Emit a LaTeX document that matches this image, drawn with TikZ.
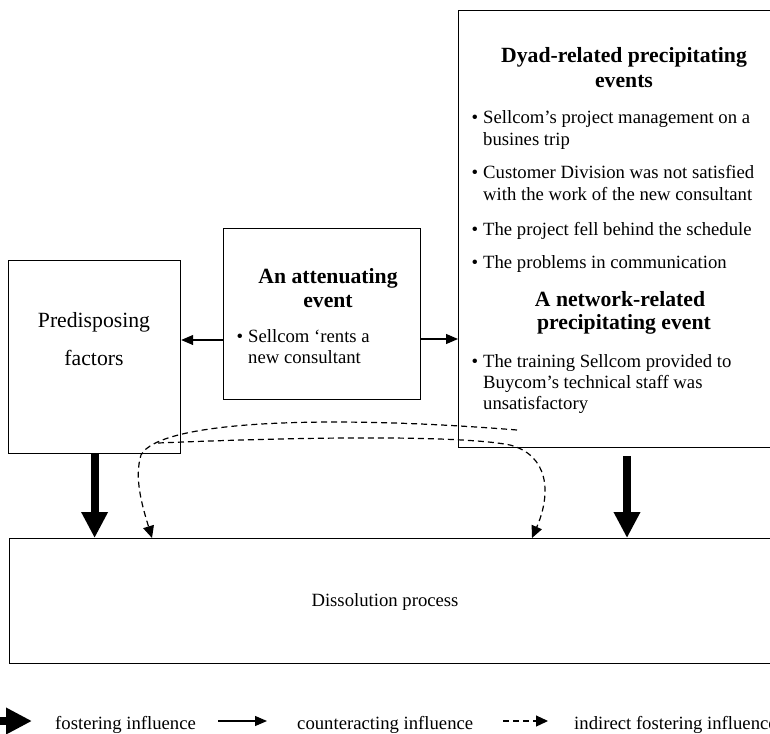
\documentclass[tikz,border=0pt]{standalone}
\usepackage{fontspec}
\setmainfont{Liberation Serif}
\usetikzlibrary{arrows.meta}
\tikzset{
  box/.style={draw, line width=1.2pt, inner sep=0pt, anchor=north west},
  txt/.style={inner sep=0pt, anchor=base west, font=\fontsize{18.7}{21.5}\selectfont},
  ctxt/.style={inner sep=0pt, anchor=base, font=\fontsize{18.7}{21.5}\selectfont},
  head/.style={inner sep=0pt, anchor=base, font=\fontsize{21.7}{24}\selectfont\bfseries},
  big/.style={inner sep=0pt, anchor=base, font=\fontsize{21.7}{24}\selectfont},
  foster/.style={line width=8pt, -{Triangle[width=25pt,length=26pt]}},
  counter/.style={line width=1.2pt, -{Triangle[width=10pt,length=12pt]}},
  indirect/.style={line width=1.2pt, dash pattern=on 6pt off 4pt, -{Triangle[width=11pt,length=12pt]}},
}
\newcommand{\bul}{\makebox[11.5pt][l]{•}}
\begin{document}
\begin{tikzpicture}[x=1pt,y=-1pt]
\useasboundingbox (0,0) rectangle (770,733);
\clip (0,0) rectangle (770,733);
\fill[white] (0,0) rectangle (770,733);

% boxes
\node[box, minimum width=172pt, minimum height=193pt] (pred) at (8,260) {};
\node[box, minimum width=197pt, minimum height=171pt] (attn) at (223,228) {};
\node[box, minimum width=330pt, minimum height=437pt] (prec) at (458,10) {};
\node[box, minimum width=780pt, minimum height=125pt] (diss) at (9,538) {};

% predisposing text
\node[big] (p1) at (94,327) {Predisposing};
\node[big] (p2) at (94,365) {factors};

% attenuating text
\node[head] (a1t) at (328,283) {An attenuating};
\node[head] (a2t) at (328,307) {event};
\node[txt] (a3t) at (236.5,342) {\bul Sellcom ‘rents a};
\node[txt] (a4t) at (248,363) {new consultant};

% precipitating text
\node[head] (h1) at (624,63) {Dyad-related precipitating};
\node[head] (h2) at (624,88) {events};
\node[txt] (b1) at (471.5,123) {\bul Sellcom’s project management on a};
\node[txt] (b1b) at (483,145) {busines trip};
\node[txt] (b2) at (471.5,178) {\bul Customer Division was not satisfied};
\node[txt] (b2b) at (483,200) {with the work of the new consultant};
\node[txt] (b3) at (471.5,235) {\bul The project fell behind the schedule};
\node[txt] (b4) at (471.5,268) {\bul The problems in communication};
\node[head] (h3) at (620,306) {A network-related};
\node[head] (h4) at (624,329) {precipitating event};
\node[txt] (b5) at (471.5,367) {\bul The training Sellcom provided to};
\node[txt] (b5b) at (483,388) {Buycom’s technical staff was};
\node[txt] (b5c) at (483,409) {unsatisfactory};

% dissolution text
\node[ctxt] (dt) at (385,606) {Dissolution process};

% counteracting arrows
\draw[counter] (attn.west |- 0,340) -- (pred.east |- 0,340);
\draw[counter] (attn.east |- 0,339) -- (prec.west |- 0,339);

% fostering arrows
\draw[foster] (pred.south) -- (pred.south |- diss.north);
\coordinate (r0) at (627,456);
\draw[foster] (r0) -- (r0 |- diss.north);

% indirect fostering (dashed)
\coordinate (c0) at (517,430);
\coordinate (c1) at (152,538);
\draw[indirect] (c0) .. controls (330,415) and (160,420) .. (141,455)
  .. controls (134,478) and (142,505) .. (c1);
\coordinate (d0) at (158,443);
\coordinate (d1) at (532,538);
\draw[indirect] (d0) .. controls (350,435) and (470,437) .. (510,445)
  .. controls (548,455) and (552,492) .. (d1);

% legend
\coordinate (l1a) at (-20,721);
\coordinate (l1b) at (32,721);
\draw[foster] (l1a) -- (l1b);
\node[txt] (lt1) at (55,729) {fostering influence};
\coordinate (l2a) at (218,721);
\coordinate (l2b) at (267,721);
\draw[counter] (l2a) -- (l2b);
\node[txt] (lt2) at (297,729) {counteracting influence};
\coordinate (l3a) at (503,721);
\coordinate (l3b) at (548,721);
\draw[indirect] (l3a) -- (l3b);
\node[txt] (lt3) at (574,729) {indirect fostering influence};
\end{tikzpicture}
\end{document}
